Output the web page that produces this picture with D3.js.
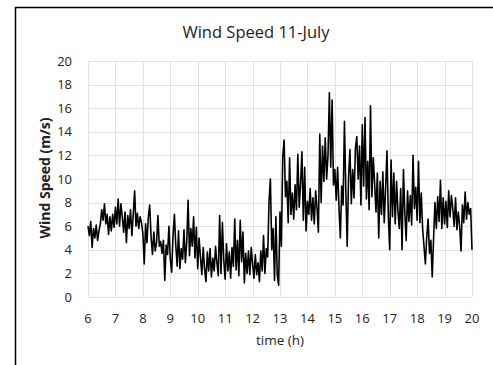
<!DOCTYPE html>
<html>
<head>
<meta charset="utf-8">
<script src="https://cdn.jsdelivr.net/npm/d3@7"></script>
<style>
  body { margin: 0; background: #fff; }
  svg { display: block; font-family: "Open Sans", sans-serif; }
</style>
</head>
<body>
<div id="app"></div>
<script>
// wind speed (m/s), one value every 3 minutes, grouped by hour
const h06 = [6.0, 5.2, 6.4, 4.2, 5.8, 5.0, 6.1, 4.8, 5.6, 6.2, 7.4, 6.5, 7.9, 6.2, 7.0, 5.3, 6.8, 5.6, 7.0, 5.9];
const h07 = [7.6, 6.2, 8.3, 6.0, 7.9, 6.8, 5.5, 7.2, 4.6, 6.9, 5.8, 7.4, 5.2, 7.0, 9.0, 6.0, 7.1, 5.8, 6.8, 6.3];
const h08 = [5.4, 2.8, 6.2, 4.6, 6.8, 7.8, 5.1, 3.6, 5.5, 3.9, 4.6, 6.9, 4.3, 4.7, 3.7, 4.8, 1.4, 4.4, 3.6, 6.0];
const h09 = [3.2, 2.1, 5.2, 7.0, 4.4, 2.6, 5.6, 2.4, 4.1, 3.2, 5.7, 2.9, 4.7, 8.2, 3.5, 5.8, 4.3, 6.8, 3.3, 5.9];
const h10 = [2.4, 5.0, 3.4, 1.9, 4.2, 2.4, 1.3, 3.8, 2.2, 4.1, 1.7, 3.3, 2.2, 4.3, 2.9, 1.8, 6.9, 2.0, 6.3, 3.1];
const h11 = [1.5, 4.5, 2.2, 3.8, 1.6, 4.2, 2.6, 6.6, 2.3, 4.8, 1.8, 6.5, 3.0, 5.5, 1.2, 3.7, 2.0, 3.9, 1.9, 4.2];
const h12 = [2.8, 1.6, 3.6, 1.9, 2.9, 1.3, 3.9, 2.2, 5.2, 2.0, 4.1, 3.4, 8.1, 10.0, 4.0, 5.8, 1.4, 6.8, 1.9, 1.0];
const h13 = [7.2, 4.3, 11.9, 13.3, 8.5, 9.8, 6.3, 11.8, 7.0, 8.8, 6.6, 9.5, 7.4, 12.1, 7.6, 9.6, 12.3, 6.5, 11.0, 5.6];
const h14 = [8.1, 7.0, 9.2, 6.5, 8.4, 6.2, 9.0, 7.5, 5.5, 13.8, 8.0, 12.8, 9.8, 13.5, 10.0, 12.0, 17.3, 11.0, 16.7, 9.5];
const h15 = [10.8, 8.2, 11.0, 7.6, 5.0, 9.4, 7.8, 14.9, 9.0, 4.3, 10.2, 12.5, 7.9, 10.8, 8.4, 12.6, 13.6, 10.0, 12.8, 7.8];
const h16 = [14.6, 9.4, 15.2, 8.3, 11.5, 7.4, 16.2, 8.5, 11.8, 9.6, 7.2, 10.5, 5.0, 9.8, 7.0, 10.6, 6.3, 9.2, 12.4, 6.8];
const h17 = [4.0, 11.6, 6.8, 10.5, 6.2, 9.8, 7.3, 5.8, 9.2, 4.0, 10.8, 7.2, 4.8, 9.0, 6.4, 8.6, 6.1, 12.0, 7.5, 9.3];
const h18 = [6.5, 11.5, 6.3, 8.8, 5.8, 4.3, 2.8, 5.1, 6.6, 3.7, 4.8, 1.7, 5.0, 8.0, 5.8, 8.5, 6.4, 9.9, 5.8, 8.4];
const h19 = [6.2, 8.1, 5.9, 9.0, 6.8, 8.6, 7.5, 6.0, 8.4, 5.7, 7.2, 6.0, 3.9, 7.8, 6.3, 8.9, 6.6, 8.0, 7.0, 7.5];
const h20 = [4.0];

const hours = [6, 7, 8, 9, 10, 11, 12, 13, 14, 15, 16, 17, 18, 19, 20];
const hourly = [h06, h07, h08, h09, h10, h11, h12, h13, h14, h15, h16, h17, h18, h19, h20];
const speedTicks = [0, 2, 4, 6, 8, 10, 12, 14, 16, 18, 20];

const data = [];
hourly.forEach((vals, i) => {
  vals.forEach((v, j) => data.push({ t: hours[i] + j / vals.length * (i < hourly.length - 1 ? 1 : 0), v }));
});

const width = 493, height = 365;
const svg = d3.select("#app").append("svg").attr("width", width).attr("height", height);

// outer chart border (only left/top visible)
svg.append("rect")
  .attr("x", 15.5).attr("y", 7.5)
  .attr("width", 520).attr("height", 420)
  .attr("fill", "none").attr("stroke", "#000").attr("stroke-width", 1.5);

const x = d3.scaleLinear().domain([6, 20]).range([88, 472]);
const y = d3.scaleLinear().domain([0, 20]).range([297, 61]);

const grid = svg.append("g").attr("stroke", "#dde1e8").attr("stroke-width", 1);
grid.selectAll("line.h").data(speedTicks).join("line")
  .attr("x1", x(6)).attr("x2", x(20))
  .attr("y1", d => Math.round(y(d)) + 0.5).attr("y2", d => Math.round(y(d)) + 0.5);
grid.selectAll("line.v").data(hours).join("line")
  .attr("y1", y(0)).attr("y2", y(20))
  .attr("x1", d => Math.round(x(d)) + 0.5).attr("x2", d => Math.round(x(d)) + 0.5);

svg.append("g")
  .selectAll("text").data(speedTicks).join("text")
  .attr("x", 72).attr("y", d => y(d) + 4.5)
  .attr("text-anchor", "end").attr("font-size", 13).attr("fill", "#222")
  .text(d => d);

svg.append("g")
  .selectAll("text").data(hours).join("text")
  .attr("x", d => x(d)).attr("y", 323)
  .attr("text-anchor", "middle").attr("font-size", 13).attr("fill", "#222")
  .text(d => d);

const line = d3.line().x(d => x(d.t)).y(d => y(d.v));
svg.append("path")
  .datum(data)
  .attr("d", line)
  .attr("fill", "none")
  .attr("stroke", "#000")
  .attr("stroke-width", 1.6)
  .attr("stroke-linejoin", "round");

svg.append("text")
  .attr("x", 256).attr("y", 38)
  .attr("text-anchor", "middle").attr("font-size", 16.5).attr("fill", "#222")
  .text("Wind Speed 11-July");

svg.append("text")
  .attr("x", 280).attr("y", 345)
  .attr("text-anchor", "middle").attr("font-size", 13.5).attr("fill", "#222")
  .text("time (h)");

svg.append("text")
  .attr("transform", "translate(50,178) rotate(-90)")
  .attr("text-anchor", "middle").attr("font-size", 14).attr("font-weight", "bold").attr("fill", "#222")
  .text("Wind Speed (m/s)");
</script>
</body>
</html>
